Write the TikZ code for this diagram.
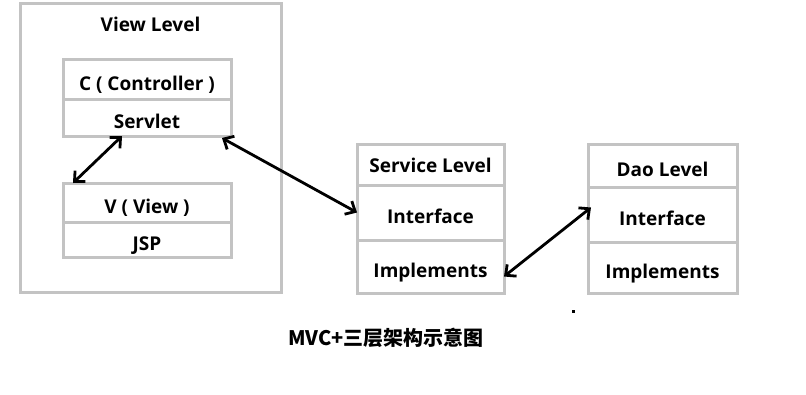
\documentclass[tikz,border=0pt]{standalone}
\usepackage{fontspec}
\setmainfont{Open Sans}
\newfontfamily\cjk{Noto Sans CJK SC}
\usetikzlibrary{arrows.meta, positioning, calc}
\definecolor{boxgray}{RGB}{195,195,195}

\begin{document}
\begin{tikzpicture}[
    x=1pt, y=-1pt,
    node distance=0pt,
    lbl/.style={font=\bfseries\fontsize{19}{21}\selectfont},
    box/.style={rectangle, draw=boxgray, line width=3pt, outer sep=0pt, inner sep=0pt, align=center, lbl, text height=22pt, text depth=0pt},
    cell/.style={box, minimum width=168pt},
    svccell/.style={box, minimum width=147pt},
    daocell/.style={box, minimum width=149pt},
    arrow/.style={{Straight Barb[length=8pt,width=15pt]}-{Straight Barb[length=8pt,width=15pt]}, line width=2.8pt}
  ]
    \useasboundingbox (0,0) rectangle (806,394);

    % view level with controller and view
    \node[box, minimum width=261pt, minimum height=289pt] (viewlvl) at (150.5,147.5) {};
    \node[lbl, below=11pt of viewlvl.north] (viewtitle) {View Level};
    \node[cell, minimum height=40pt] (ctrl) at (147,79) {C ( Controller )};
    \node[cell, minimum height=37pt, below=of ctrl] (servlet) {Servlet};
    \node[cell, minimum height=39pt] (vcell) at (147,202.5) {V ( View )};
    \node[cell, minimum height=35pt, below=of vcell] (jsp) {JSP};

    % service level
    \node[svccell, minimum height=41pt, text height=15pt] (svctitle) at (430.5,164.5) {Service Level};
    \node[svccell, minimum height=55pt, below=of svctitle] (svcif) {Interface};
    \node[svccell, minimum height=53pt, below=of svcif] (svcimpl) {Implements};

    % dao level
    \node[daocell, minimum height=43pt] (daotitle) at (662.5,165.5) {Dao Level};
    \node[daocell, minimum height=55pt, below=of daotitle] (daoif) {Interface};
    \node[daocell, minimum height=51pt, below=of daoif] (daoimpl) {Implements};

    \draw[arrow] ([xshift=10pt]vcell.north west) -- ([xshift=-25pt]servlet.south);
    \draw[arrow] ([xshift=-9pt,yshift=-2pt]servlet.south east) -- (svcif.west);
    \draw[arrow] ([yshift=-10pt]svcimpl.east) -- ([xshift=3pt,yshift=7pt]daoif.west);

    \fill (572,310) rectangle (575,313);
    \node[font=\cjk\bfseries\fontsize{20}{22}\selectfont] (caption) at (386,338) {MVC+三层架构示意图};
  \end{tikzpicture}
\end{document}
